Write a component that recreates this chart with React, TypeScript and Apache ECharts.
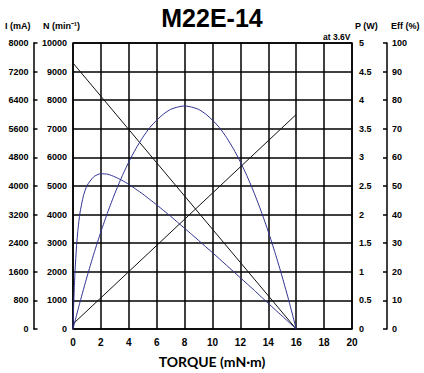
import React, { useEffect, useRef } from "react";
import * as echarts from "echarts";

const powerTorque = [0, 0.5, 1, 1.5, 2, 2.5, 3, 3.5, 4, 4.5, 5, 5.5, 6, 6.5, 7, 7.5, 8, 8.5, 9, 9.5, 10, 10.5, 11, 11.5, 12, 12.5, 13, 13.5, 14, 14.5, 15, 15.5, 16];
const powerW = [0, 0.47, 0.91, 1.32, 1.7, 2.05, 2.37, 2.66, 2.92, 3.15, 3.35, 3.52, 3.65, 3.76, 3.84, 3.88, 3.9, 3.88, 3.84, 3.76, 3.65, 3.52, 3.35, 3.15, 2.92, 2.66, 2.37, 2.05, 1.7, 1.32, 0.91, 0.47, 0];
const effTorque = [0, 0.05, 0.1, 0.15, 0.25, 0.35, 0.5, 0.75, 1, 1.5, 2, 2.5, 3, 3.5, 4, 4.5, 5, 5.5, 6, 6.5, 7, 7.5, 8, 8.5, 9, 9.5, 10, 10.5, 11, 11.5, 12, 12.5, 13, 13.5, 14, 14.5, 15, 15.5, 16];
const effPct = [0, 8.5, 15.2, 20.6, 28.7, 34.5, 40.6, 46.6, 50.1, 53.3, 54.3, 54.1, 53.2, 52.0, 50.6, 48.9, 47.2, 45.3, 43.4, 41.4, 39.4, 37.3, 35.2, 33.1, 31.0, 28.8, 26.7, 24.5, 22.3, 20.1, 17.9, 15.7, 13.5, 11.2, 9.0, 6.7, 4.5, 2.25, 0];
const speedTorque = [0, 16];
const speedRpm = [9300, 0];
const currentTorque = [0, 16];
const currentMa = [140, 6000];

const xTicks = [0, 2, 4, 6, 8, 10, 12, 14, 16, 18, 20];

const BLUE = "#2e3190";
const FONT = "'Liberation Sans', Arial, sans-serif";

export default function App() {
  const ref = useRef<HTMLDivElement>(null);
  useEffect(() => {
    document.body.style.margin = "0";
    if (!ref.current) return;
    const chart = echarts.init(ref.current, undefined, { renderer: "svg" });
    const lbl = { fontSize: 9, fontWeight: "bold" as const, color: "#000", fontFamily: FONT, formatter: (v: number) => String(v) };
    chart.setOption({
      animation: false,
      backgroundColor: "#fff",
      grid: { left: 73, right: 72, top: 43, bottom: 44, show: true, borderColor: "#000", borderWidth: 1.5, backgroundColor: "transparent" },
      xAxis: {
        type: "value",
        min: xTicks[0],
        max: xTicks[xTicks.length - 1],
        interval: 2,
        axisLine: { show: false },
        axisTick: { show: false },
        axisLabel: { ...lbl, fontSize: 10, margin: 8 },
        splitLine: { show: true, lineStyle: { color: "#000", width: 1.5 } },
      },
      yAxis: [
        {
          type: "value", position: "left", offset: 0, min: 0, max: 10000, interval: 1000,
          axisLine: { show: false }, axisTick: { show: false },
          axisLabel: { ...lbl, margin: 6 },
          splitLine: { show: true, lineStyle: { color: "#000", width: 1.5 } },
        },
        {
          type: "value", position: "left", offset: 39.5, min: 0, max: 8000, interval: 800,
          axisLine: { show: true, lineStyle: { color: "#000", width: 1.5 } },
          axisTick: { show: true, inside: true, length: 4, lineStyle: { color: "#000", width: 1.5 } },
          axisLabel: { ...lbl, margin: 5 },
          splitLine: { show: false },
        },
        {
          type: "value", position: "right", offset: 0, min: 0, max: 5, interval: 0.5,
          axisLine: { show: false }, axisTick: { show: false },
          axisLabel: { ...lbl, margin: 7 },
          splitLine: { show: false },
        },
        {
          type: "value", position: "right", offset: 35, min: 0, max: 100, interval: 10,
          axisLine: { show: true, lineStyle: { color: "#000", width: 1.5 } },
          axisTick: { show: true, inside: true, length: 4, lineStyle: { color: "#000", width: 1.5 } },
          axisLabel: { ...lbl, margin: 5 },
          splitLine: { show: false },
        },
      ],
      series: [
        {
          type: "line", yAxisIndex: 0, symbol: "none",
          data: speedTorque.map((t, i) => [t, speedRpm[i]]),
          lineStyle: { color: "#111", width: 1 },
        },
        {
          type: "line", yAxisIndex: 1, symbol: "none",
          data: currentTorque.map((t, i) => [t, currentMa[i]]),
          lineStyle: { color: "#111", width: 1 },
        },
        {
          type: "line", yAxisIndex: 2, symbol: "none", smooth: 0.2,
          data: powerTorque.map((t, i) => [t, powerW[i]]),
          lineStyle: { color: BLUE, width: 1 },
        },
        {
          type: "line", yAxisIndex: 3, symbol: "none", smooth: 0.2,
          data: effTorque.map((t, i) => [t, effPct[i]]),
          lineStyle: { color: BLUE, width: 1 },
        },
      ],
      graphic: [
        { type: "text", left: "center", top: 5, style: { text: "M22E-14", fontSize: 25, fontWeight: "bold", fontFamily: FONT, fill: "#000" } },
        { type: "text", x: 5, y: 21, style: { text: "I (mA)", fontSize: 9, fontWeight: "bold", fontFamily: FONT, fill: "#000" } },
        { type: "text", x: 43, y: 21, style: { text: "N (min⁻¹)", fontSize: 9, fontWeight: "bold", fontFamily: FONT, fill: "#000" } },
        { type: "text", x: 355, y: 21, style: { text: "P (W)", fontSize: 9, fontWeight: "bold", fontFamily: FONT, fill: "#000" } },
        { type: "text", x: 391, y: 21, style: { text: "Eff (%)", fontSize: 9, fontWeight: "bold", fontFamily: FONT, fill: "#000" } },
        { type: "text", x: 323, y: 32, style: { text: "at 3.6V", fontSize: 8.5, fontWeight: "bold", fontFamily: FONT, fill: "#000" } },
        { type: "text", left: "center", top: 354, style: { text: "TORQUE (mN·m)", fontSize: 14, fontWeight: "bold", fontFamily: "Lato, 'Open Sans', sans-serif", fill: "#000" } },
      ],
    });
    return () => chart.dispose();
  }, []);
  return <div ref={ref} style={{ width: 424, height: 373 }} />;
}
